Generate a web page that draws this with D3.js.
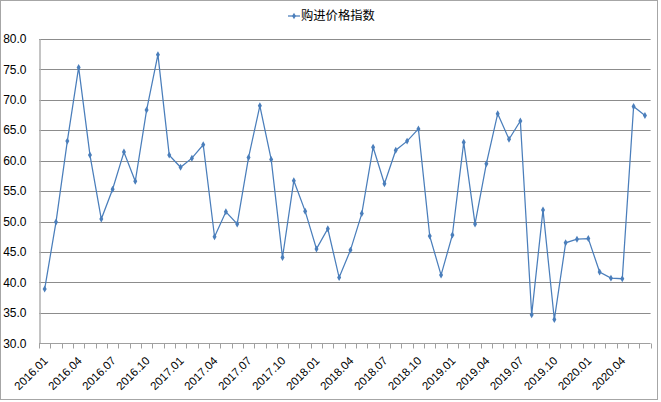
<!DOCTYPE html>
<html><head><meta charset="utf-8">
<script src="https://cdn.jsdelivr.net/npm/d3@7/dist/d3.min.js"></script>
<style>body{margin:0;background:#fff}svg{display:block}</style>
</head><body>
<script>
const seriesName = "购进价格指数";
const months = [];
for (let y = 2016; y <= 2020; y++) for (let m = 1; m <= 12; m++) {
  if (y === 2020 && m > 6) break;
  months.push(y + "." + String(m).padStart(2, "0"));
}
const values = [38.9,49.9,63.2,75.3,60.9,50.4,55.3,61.4,56.6,68.3,77.4,60.9,
  58.9,60.4,62.6,47.5,51.6,49.6,60.5,69.0,60.2,44.1,56.7,51.7,
  45.5,48.8,40.8,45.3,51.3,62.2,56.2,61.7,63.2,65.2,47.6,41.2,
  47.8,63.0,49.6,59.5,67.7,63.5,66.5,34.7,51.9,33.9,46.5,47.1,
  47.2,41.7,40.7,40.6,68.9,67.4];
const yTicks = [30,35,40,45,50,55,60,65,70,75,80];

const W = 661, H = 402;
const m = {left: 39, right: 10, top: 39, bottom: 59};
const svg = d3.select("body").append("svg").attr("width", W).attr("height", H);
svg.append("rect").attr("x",0.5).attr("y",0.5).attr("width",657).attr("height",399)
  .attr("fill","#fff").attr("stroke","#a6a6a6");

const x = d3.scaleBand().domain(months).range([m.left, 650.6]);
const y = d3.scaleLinear().domain([30, 80]).range([343.3, 38.8]);

// gridlines
svg.append("g").selectAll("line").data(yTicks.filter(t => t > 30)).join("line")
  .attr("x1", m.left).attr("x2", 650.6)
  .attr("y1", d => Math.round(y(d)) + 0.5).attr("y2", d => Math.round(y(d)) + 0.5)
  .attr("stroke", "#8c8c8c").attr("stroke-width", 1);

// y axis
const yAxis = svg.append("g").attr("transform", `translate(${m.left + 0.5},0)`)
  .call(d3.axisLeft(y).tickValues(yTicks).tickFormat(d3.format(".1f")).tickSize(0).tickPadding(13));
yAxis.select(".domain").attr("stroke", "#b0b0b0").attr("stroke-width", 1.5);
yAxis.selectAll("text").attr("font-family", "Liberation Sans, Arial, sans-serif")
  .attr("font-size", 12).attr("fill", "#000");

// x axis
const xAxisG = svg.append("g").attr("transform", `translate(0,${Math.round(y(30)) + 0.5})`);
xAxisG.append("line").attr("x1", m.left).attr("x2", 650.6).attr("stroke", "#a0a0a0");
xAxisG.selectAll("line.tk").data(d3.range(months.length + 1)).join("line").attr("class","tk")
  .attr("x1", i => Math.round(m.left + i * x.step()) + 0.5)
  .attr("x2", i => Math.round(m.left + i * x.step()) + 0.5)
  .attr("y1", 0).attr("y2", 5).attr("stroke", "#a0a0a0");
xAxisG.selectAll("text").data(months.filter((d, i) => i % 3 === 0 && i <= 51)).join("text")
  .attr("transform", d => `translate(${x(d) + x.bandwidth() / 2 + 1},${15}) rotate(-45)`)
  .attr("text-anchor", "end").attr("dy", "0.35em")
  .attr("font-family", "Liberation Sans, Arial, sans-serif").attr("font-size", 11.5)
  .attr("fill", "#000").text(d => d);

// line
const color = "#4a7ebb";
const pts = months.map((mo, i) => [x(mo) + x.bandwidth() / 2, y(values[i])]);
svg.append("path").attr("d", d3.line()(pts)).attr("fill", "none")
  .attr("stroke", color).attr("stroke-width", 1.25);
svg.append("g").selectAll("path").data(pts).join("path")
  .attr("transform", d => `translate(${d[0]},${d[1]})`)
  .attr("d", d3.symbol(d3.symbolDiamond, 14)).attr("fill", color);

// legend
const lg = svg.append("g");
lg.append("line").attr("x1", 288).attr("x2", 300).attr("y1", 16).attr("y2", 16)
  .attr("stroke", color).attr("stroke-width", 1.25);
lg.append("path").attr("transform", "translate(294,16)")
  .attr("d", d3.symbol(d3.symbolDiamond, 12)).attr("fill", color);
lg.append("text").attr("x", 301).attr("y", 15.5).attr("dy", "0.35em")
  .attr("font-family", "Noto Sans CJK SC, sans-serif").attr("font-size", 12.3)
  .attr("fill", "#000").text(seriesName);
</script>
</body></html>
